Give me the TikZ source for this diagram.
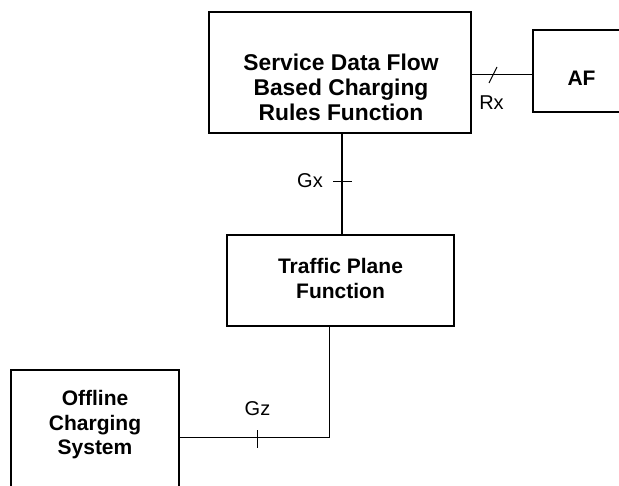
\documentclass[tikz,border=0pt]{standalone}
\usepackage{fontspec}
\setmainfont{Liberation Sans}
\newcommand*{\PlaceBoxes}[1]{% #1 = list of name/x/y/width/height
  \foreach \n/\x/\y/\w/\h in {#1} {
    \node [box, minimum width=\w, minimum height=\h] (\n) at (\x,\y) {};
    }%
}

\begin{document}
\begin{tikzpicture}[x=1pt, y=-1pt,
    box/.style={draw=black, line width=1.3pt, inner sep=0pt},
    boxtext/.style={font=\fontsize{21}{24.5}\selectfont\bfseries, align=center, inner sep=0pt},
    iflabel/.style={font=\fontsize{20}{24}\selectfont, inner sep=0pt},
    link/.style={line width=0.9pt},
    tick/.style={line width=0.9pt}]
    \clip (0,0) rectangle (619,486);

    \PlaceBoxes{
        sdf/340/72.5/262/121,
        af/593/71/120/82,
        tpf/340.5/280.5/227/91,
        ocs/95/435/168/130
    }

    \node [boxtext, font=\fontsize{22.8}{25}\selectfont\bfseries] (sdftext) at (341,87) {Service Data Flow\\Based Charging\\Rules Function};
    \node [boxtext] (aftext) at (581.5,78) {AF};
    \node [boxtext] (tpftext) at (340.5,278.5) {Traffic Plane\\Function};
    \node [boxtext] (ocstext) at (95,425) {Offline\\Charging\\System};

    % reference points
    \coordinate (rxtick) at (493,75);
    \coordinate (gxtick) at (342,181);
    \coordinate (gzcorner) at (329,437);
    \coordinate (gztick) at (257,439);

    % Rx
    \draw [link] ([yshift=-1.5]sdf.east) -- ([yshift=-1.5]sdf.east -| af.west);
    \draw [tick] ([xshift=-4,yshift=-8]rxtick) -- ([xshift=4,yshift=8]rxtick);
    \node [iflabel] (rx) at (491.5,103) {Rx};

    % Gx
    \draw [line width=2.4pt] (sdf.south -| gxtick) -- (tpf.north -| gxtick);
    \draw [tick] ([xshift=-9]gxtick) -- ([xshift=10]gxtick);
    \node [iflabel] (gx) at (310,181) {Gx};

    % Gz
    \draw [link] (tpf.south -| gzcorner) -- (gzcorner) -- (ocs.east |- gzcorner);
    \draw [tick] ([yshift=-9]gztick) -- ([yshift=9]gztick);
    \node [iflabel] (gz) at (257.5,408.5) {Gz};
\end{tikzpicture}
\end{document}
